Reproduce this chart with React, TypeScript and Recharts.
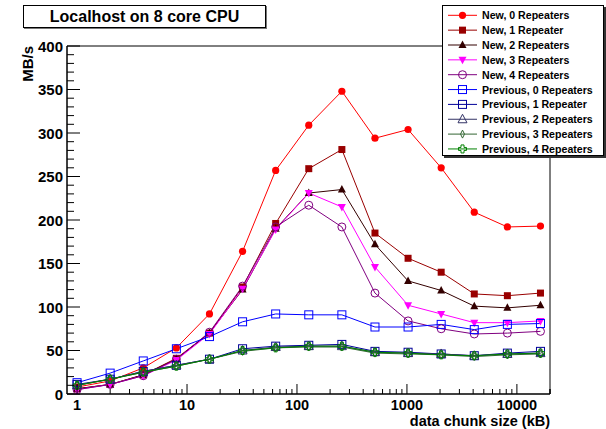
import React from "react";
import { LineChart, Line, XAxis, YAxis, ReferenceArea } from "recharts";

// chunk sizes in kB (log axis)
const sizes = [1, 2, 4, 8, 16, 32, 64, 128, 256, 512, 1024, 2048, 4096, 8192, 16384];

const new0 = [8, 15, 30, 53, 92, 164, 257, 309, 348, 294, 304, 260, 209, 192, 193];
const new1 = [6, 11, 22, 41, 70, 123, 196, 259, 281, 185, 156, 140, 115, 113, 116];
const new2 = [6, 11, 22, 40, 70, 120, 190, 231, 235, 172, 130, 119, 101, 99, 102];
const new3 = [5, 11, 21, 39, 69, 121, 189, 231, 215, 146, 102, 92, 82, 82, 84];
const new4 = [5, 11, 21, 40, 71, 124, 192, 217, 192, 116, 84, 75, 69, 70, 72];
const prev0 = [13, 24, 38, 52, 66, 83, 92, 91, 91, 77, 77, 80, 74, 80, 81];
const prev1 = [11, 17, 26, 33, 40, 52, 55, 56, 57, 49, 48, 46, 44, 47, 49];
const prev2 = [10, 17, 26, 33, 40, 50, 54, 55, 55, 48, 47, 46, 44, 46, 47];
const prev3 = [10, 17, 25, 32, 40, 49, 53, 54, 54, 47, 46, 45, 43, 45, 46];
const prev4 = [10, 17, 25, 32, 40, 50, 53, 55, 55, 48, 47, 45, 44, 46, 47];

const seriesNames = [
  "New, 0 Repeaters",
  "New, 1 Repeater",
  "New, 2 Repeaters",
  "New, 3 Repeaters",
  "New, 4 Repeaters",
  "Previous, 0 Repeaters",
  "Previous, 1 Repeater",
  "Previous, 2 Repeaters",
  "Previous, 3 Repeaters",
  "Previous, 4 Repeaters",
];
const seriesValues = [new0, new1, new2, new3, new4, prev0, prev1, prev2, prev3, prev4];
const seriesColors = ["#ff0000", "#990000", "#330000", "#ff00ff", "#800080", "#0000ff", "#000099", "#333366", "#336633", "#008000"];
const seriesShapes = ["circle", "square", "triUp", "triDown", "openCircle", "openSquare", "openSquare", "openTri", "diamond", "cross"];

const yMajor = [0, 50, 100, 150, 200, 250, 300, 350, 400];
const xDecades = [1, 10, 100, 1000, 10000];

const data = sizes.map((x, i) => {
  const row: Record<string, number> = { x };
  seriesValues.forEach((s, k) => (row[`s${k}`] = s[i]));
  return row;
});

// minor ticks: every 10 MB/s, and 2..9 per decade
const yTicks = Array.from({ length: 41 }, (_, i) => i * 10);
const xTicks: number[] = [];
for (const d of xDecades) for (let m = 1; m <= 9; m++) if (d * m <= 20000) xTicks.push(d * m);
xTicks.push(20000);

const FONT = "'Liberation Sans', Arial, Helvetica, sans-serif";

function Marker({ shape, cx, cy, color }: { shape: string; cx: number; cy: number; color: string }) {
  switch (shape) {
    case "circle":
      return <circle cx={cx} cy={cy} r={3.6} fill={color} />;
    case "square":
      return <rect x={cx - 3.5} y={cy - 3.5} width={7} height={7} fill={color} />;
    case "triUp":
      return <polygon points={`${cx},${cy - 4.5} ${cx + 4},${cy + 3} ${cx - 4},${cy + 3}`} fill={color} />;
    case "triDown":
      return <polygon points={`${cx - 4},${cy - 3} ${cx + 4},${cy - 3} ${cx},${cy + 4.5}`} fill={color} />;
    case "openCircle":
      return <circle cx={cx} cy={cy} r={4} fill="none" stroke={color} strokeWidth={1} />;
    case "openSquare":
      return <rect x={cx - 4} y={cy - 4} width={8} height={8} fill="none" stroke={color} strokeWidth={1} />;
    case "openTri":
      return <polygon points={`${cx},${cy - 5} ${cx + 4.5},${cy + 3.5} ${cx - 4.5},${cy + 3.5}`} fill="none" stroke={color} strokeWidth={1} />;
    case "diamond":
      return <polygon points={`${cx},${cy - 4} ${cx + 2},${cy} ${cx},${cy + 4} ${cx - 2},${cy}`} fill="none" stroke={color} strokeWidth={1} />;
    case "cross": {
      const a = 1.5, b = 4;
      const pts = [
        [-a, -b], [a, -b], [a, -a], [b, -a], [b, a], [a, a], [a, b], [-a, b], [-a, a], [-b, a], [-b, -a], [-a, -a],
      ].map(([dx, dy]) => `${cx + dx},${cy + dy}`).join(" ");
      return <polygon points={pts} fill="none" stroke={color} strokeWidth={1} />;
    }
    default:
      return null;
  }
}

function YTick(props: any) {
  const { x, y, payload } = props;
  const v = payload.value;
  const major = yMajor.includes(v);
  return (
    <g>
      <line x1={x} x2={x + (major ? 13 : 7)} y1={y} y2={y} stroke="#000" />
      {major && (
        <text x={x - 4} y={y} textAnchor="end" dominantBaseline="central" fontFamily={FONT} fontWeight="bold" fontSize={15} fill="#000">
          {v}
        </text>
      )}
    </g>
  );
}

function XTick(props: any) {
  const { x, y, payload } = props;
  const v = payload.value;
  const major = xDecades.includes(v);
  return (
    <g>
      <line x1={x} x2={x} y1={y} y2={y - (major ? 10 : 5)} stroke="#000" />
      {major && (
        <text x={x} y={y + 10.5} textAnchor="middle" dominantBaseline="central" fontFamily={FONT} fontWeight="bold" fontSize={14.5} fill="#000">
          {v}
        </text>
      )}
    </g>
  );
}

function LegendBox() {
  const rowY = (i: number) => 9.3 + i * 14.85;
  return (
    <div
      style={{
        position: "absolute",
        left: 442,
        top: 5,
        width: 162,
        height: 151,
        boxSizing: "border-box",
        border: "1px solid #000",
        boxShadow: "2px 2px 0 #333",
        background: "#fff",
      }}
    >
      <svg width={160} height={149} style={{ position: "absolute", left: 0, top: 0 }}>
        {seriesNames.map((name, i) => (
          <g key={name}>
            <line x1={5} x2={34} y1={rowY(i)} y2={rowY(i)} stroke={seriesColors[i]} strokeWidth={1} />
            <Marker shape={seriesShapes[i]} cx={19.5} cy={rowY(i)} color={seriesColors[i]} />
            <text x={39} y={rowY(i)} dominantBaseline="central" fontFamily={FONT} fontWeight="bold" fontSize={10.6} fill="#000">
              {name}
            </text>
          </g>
        ))}
      </svg>
    </div>
  );
}

export default function App() {
  return (
    <div style={{ position: "absolute", left: 0, top: 0, width: 606, height: 429, background: "#fff", overflow: "hidden" }}>
      <LineChart width={606} height={429} data={data} margin={{ top: 46, right: 56, left: 7, bottom: 0 }}>
        <XAxis
          dataKey="x"
          type="number"
          scale="log"
          domain={[0.81, 20000]}
          allowDataOverflow
          ticks={xTicks}
          interval={0}
          tick={XTick}
          tickLine={false}
          tickSize={0}
          tickMargin={0}
          height={35}
          axisLine={{ stroke: "#000" }}
        />
        <YAxis
          type="number"
          domain={[0, 400]}
          ticks={yTicks}
          interval={0}
          tick={YTick}
          tickLine={false}
          tickSize={0}
          tickMargin={0}
          width={60}
          axisLine={{ stroke: "#000" }}
        />
        <ReferenceArea x1={0.81} x2={20000} y1={0} y2={400} fill="none" fillOpacity={0} stroke="#000" strokeWidth={1} />
        {seriesNames.map((name, k) => (
          <Line
            key={name}
            dataKey={`s${k}`}
            name={name}
            stroke={seriesColors[k]}
            strokeWidth={1}
            isAnimationActive={false}
            activeDot={false}
            dot={(p: any) => <Marker key={`${k}-${p.index}`} shape={seriesShapes[k]} cx={p.cx} cy={p.cy} color={seriesColors[k]} />}
          />
        ))}
        <text x={33} y={46} transform="rotate(-90 33 46)" textAnchor="end" fontFamily={FONT} fontWeight="bold" fontSize={15} fill="#000">
          MB/s
        </text>
        <text x={550} y={425.5} textAnchor="end" fontFamily={FONT} fontWeight="bold" fontSize={14.5} fill="#000">
          data chunk size (kB)
        </text>
      </LineChart>
      <div
        style={{
          position: "absolute",
          left: 23,
          top: 5,
          width: 243,
          height: 23,
          boxSizing: "border-box",
          border: "1px solid #000",
          boxShadow: "1px 1px 0 #777",
          background: "#fff",
          fontFamily: FONT,
          fontWeight: "bold",
          fontSize: 16,
          lineHeight: "21px",
          textAlign: "center",
        }}
      >
        Localhost on 8 core CPU
      </div>
      <LegendBox />
    </div>
  );
}
